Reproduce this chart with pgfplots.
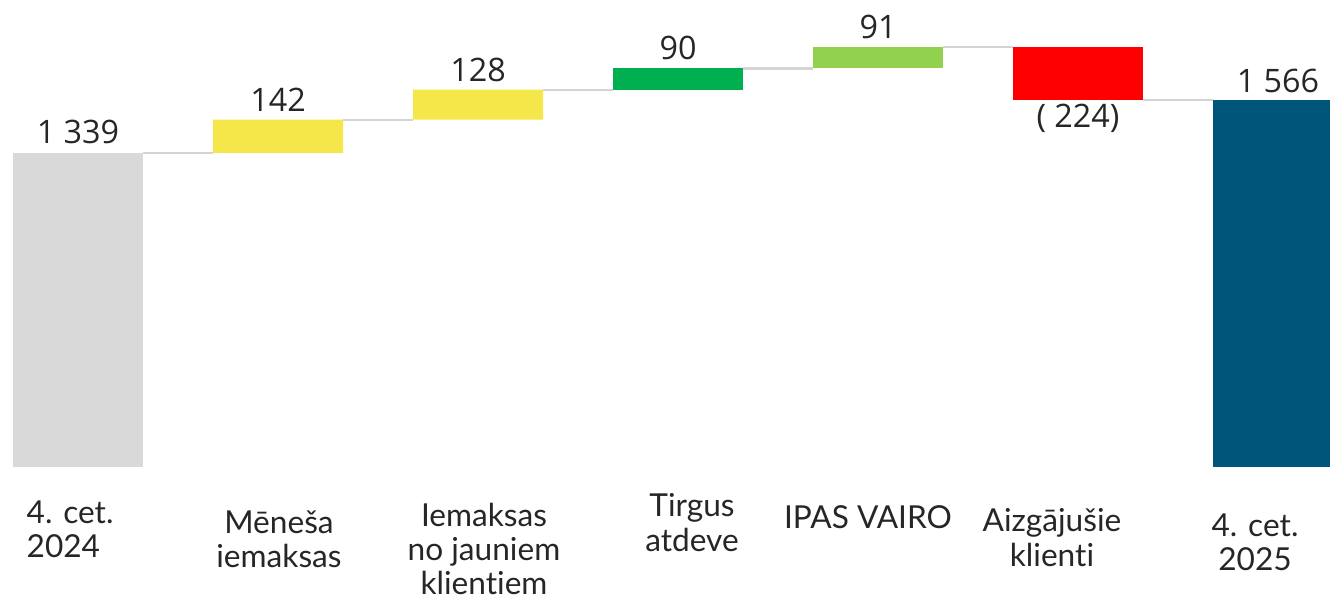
\documentclass[border=0pt]{standalone}
\usepackage{fontspec}
\setmainfont{Lato}[Ligatures={NoCommon}]
\newfontfamily\numfont{Open Sans}
\usepackage{pgfplots}
\pgfplotsset{compat=1.18}
\definecolor{cgray}{HTML}{D9D9D9}
\definecolor{cyellow}{HTML}{F5E64A}
\definecolor{cdgreen}{HTML}{00B050}
\definecolor{clgreen}{HTML}{92D050}
\definecolor{cred}{HTML}{FF0000}
\definecolor{cblue}{HTML}{00567A}
\definecolor{cline}{HTML}{D4D4D4}
\begin{document}
\begin{tikzpicture}
\pgfplotsset{wf/.style={scale only axis, width=13.3cm, height=4.67cm,
  xmin=-0.39, xmax=6.26, ymin=0, ymax=1991, hide axis, clip=false}}
\begin{axis}[wf, ybar stacked, bar width=1.3cm]
\addplot[draw=none, fill=none] coordinates {(0,0)(1,1339)(2,1481)(3,1609)(4,1699)(5,1566)(6,0)};
\addplot[draw=none, fill=cgray] coordinates {(0,1339)(1,0)(2,0)(3,0)(4,0)(5,0)(6,0)};
\addplot[draw=none, fill=cyellow] coordinates {(0,0)(1,142)(2,128)(3,0)(4,0)(5,0)(6,0)};
\addplot[draw=none, fill=cdgreen] coordinates {(0,0)(1,0)(2,0)(3,90)(4,0)(5,0)(6,0)};
\addplot[draw=none, fill=clgreen] coordinates {(0,0)(1,0)(2,0)(3,0)(4,91)(5,0)(6,0)};
\addplot[draw=none, fill=cred] coordinates {(0,0)(1,0)(2,0)(3,0)(4,0)(5,224)(6,0)};
\addplot[draw=none, fill=cblue] coordinates {(0,0)(1,0)(2,0)(3,0)(4,0)(5,0)(6,1566)};
\end{axis}
\begin{axis}[wf]
\addplot[cline, line width=0.6pt, no marks] coordinates {(0.325,1339)(0.675,1339)};
\addplot[cline, line width=0.6pt, no marks] coordinates {(1.325,1481)(1.675,1481)};
\addplot[cline, line width=0.6pt, no marks] coordinates {(2.325,1609)(2.675,1609)};
\addplot[cline, line width=0.6pt, no marks] coordinates {(3.325,1699)(3.675,1699)};
\addplot[cline, line width=0.6pt, no marks] coordinates {(4.325,1790)(4.675,1790)};
\addplot[cline, line width=0.6pt, no marks] coordinates {(5.325,1566)(5.675,1566)};
\begin{scope}[every node/.style={font=\numfont\fontsize{9.2}{11}\selectfont, text=black!85, inner sep=0pt}]
\node[anchor=base, yshift=0.9mm] at (axis cs:0,1339) {1 339};
\node[anchor=base, yshift=0.8mm] at (axis cs:1,1481) {142};
\node[anchor=base, yshift=0.8mm] at (axis cs:2,1609) {128};
\node[anchor=base, yshift=0.9mm] at (axis cs:3,1699) {90};
\node[anchor=base, yshift=0.9mm] at (axis cs:4,1790) {91};
\node[anchor=north, yshift=-0.4mm] at (axis cs:5,1566) {( 224)};
\node[anchor=base, yshift=0.7mm] at (axis cs:6,1566) {1 566};
\end{scope}
\begin{scope}[every node/.style={font=\fontsize{9}{9.8}\selectfont, text=black!85, inner sep=0pt}]
\node[anchor=north west, align=left] at (axis cs:-0.26,-140.7) {4. cet.\\2024};
\node[anchor=north, align=center] at (axis cs:1.005,-183.4) {Mēneša\\iemaksas};
\node[anchor=north, align=center] at (axis cs:2.03,-149.3) {Iemaksas\\no jauniem\\klientiem};
\node[anchor=north, align=center] at (axis cs:3.07,-110.9) {Tirgus\\atdeve};
\node[anchor=north, align=center] at (axis cs:3.95,-162) {IPAS VAIRO};
\node[anchor=north, align=center] at (axis cs:4.87,-174.8) {Aizgājušie\\klienti};
\node[anchor=north, align=center] at (axis cs:5.885,-196.2) {4. cet.\\2025};
\end{scope}
\end{axis}
\pgfresetboundingbox
\path (0,-1.33cm) rectangle (13.3cm,4.67cm);
\end{tikzpicture}
\end{document}
